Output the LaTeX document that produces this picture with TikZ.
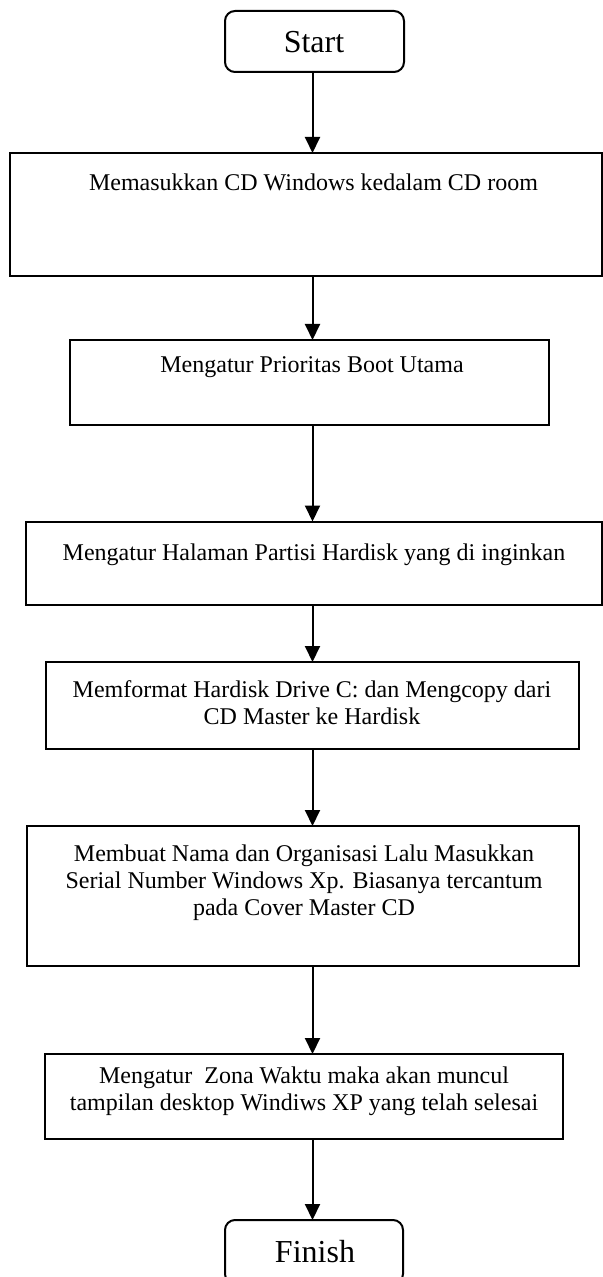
\documentclass[tikz,border=0pt]{standalone}
\usepackage{fontspec}
\setmainfont{Liberation Serif}
\usetikzlibrary{arrows.meta}
\begin{document}
\begin{tikzpicture}[x=0.5pt,y=-0.5pt,
  boxst/.style={draw,line width=1pt,inner sep=0pt,outer sep=0pt},
  termst/.style={boxst,rounded corners=5pt},
  txt/.style={anchor=base,inner sep=0pt,font=\fontsize{12}{13.5}\selectfont},
  ttxt/.style={anchor=base,inner sep=0pt,font=\fontsize{16}{18}\selectfont},
  arr/.style={line width=1pt,-{Triangle[width=7.5pt,length=8pt]}}]
\useasboundingbox (0,0) rectangle (603,1277);
\clip (0,0) rectangle (603,1277);
% boxes
\node[termst,minimum width=89.5pt,minimum height=30.5pt] (start) at (314.5,41.5) {};
\node[boxst,minimum width=296pt,minimum height=61.5pt] (b1) at (306,214.5) {};
\node[boxst,minimum width=239.5pt,minimum height=42.5pt] (b2) at (309.5,382.5) {};
\node[boxst,minimum width=288pt,minimum height=41.5pt] (b3) at (314,563) {};
\node[boxst,minimum width=266.5pt,minimum height=43.5pt] (b4) at (312.5,705.5) {};
\node[boxst,minimum width=276pt,minimum height=70pt] (b5) at (303,896) {};
\node[boxst,minimum width=259pt,minimum height=42.5pt] (b6) at (304,1096.5) {};
\node[termst,minimum width=89pt,minimum height=32pt] (finish) at (314,1252) {};
% texts
\node[ttxt] (tstart) at (314,53) {Start};
\node[txt] (t1) at (313.5,191) {Memasukkan CD Windows kedalam CD room};
\node[txt] (t2) at (312,373) {Mengatur Prioritas Boot Utama};
\node[txt] (t3) at (314,560) {Mengatur Halaman Partisi Hardisk yang di inginkan};
\node[txt] (t4) at (312,697) {\parbox[t]{260pt}{\centering Memformat Hardisk Drive C: dan Mengcopy dari\\CD Master ke Hardisk}};
\node[txt] (t5) at (304,861) {\parbox[t]{270pt}{\centering Membuat Nama dan Organisasi Lalu Masukkan\\Serial Number Windows Xp. Biasanya tercantum\\pada Cover Master CD}};
\node[txt] (t6) at (304,1083) {\parbox[t]{255pt}{\centering Mengatur\ \ Zona Waktu maka akan muncul\\tampilan desktop Windiws XP yang telah selesai}};
\node[ttxt] (tfinish) at (315,1262) {Finish};
% connectors
\coordinate (ax) at (312.5,0);
\draw[arr] (ax |- start.south) -- (ax |- b1.north);
\draw[arr] (ax |- b1.south) -- (ax |- b2.north);
\draw[arr] (ax |- b2.south) -- (ax |- b3.north);
\draw[arr] (ax |- b3.south) -- (ax |- b4.north);
\draw[arr] (ax |- b4.south) -- (ax |- b5.north);
\draw[arr] (ax |- b5.south) -- (ax |- b6.north);
\draw[arr] (ax |- b6.south) -- (ax |- finish.north);
\end{tikzpicture}
\end{document}
